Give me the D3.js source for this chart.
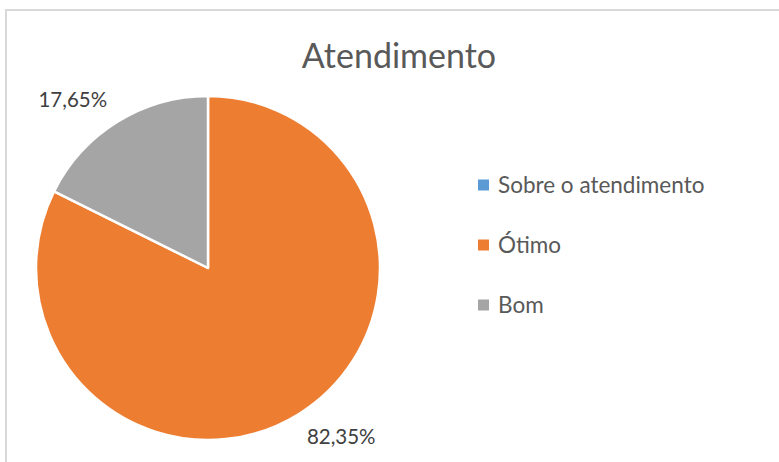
<!DOCTYPE html>
<html><head><meta charset="utf-8">
<script src="https://cdn.jsdelivr.net/npm/d3@7"></script>
<style>html,body{margin:0;padding:0;background:#fff;}svg{display:block;}</style>
</head><body>
<svg id="chart" width="779" height="462"></svg>
<script>
const title = "Atendimento";
const categories = ["Sobre o atendimento", "Ótimo", "Bom"];
const values = [0, 82.35, 17.65];
const labels = ["", "82,35%", "17,65%"];
const colors = ["#5B9BD5", "#ED7D31", "#A5A5A5"];

const svg = d3.select("#chart");
const font = "Lato, 'Open Sans', sans-serif";

svg.append("rect").attr("x", 6).attr("y", 10).attr("width", 820).attr("height", 500)
  .attr("fill", "#fff").attr("stroke", "#d9d9d9").attr("stroke-width", 2);

svg.append("text").attr("x", 399).attr("y", 68).attr("text-anchor", "middle")
  .attr("font-family", font).attr("font-size", 34).attr("fill", "#595959").text(title);

const cx = 208, cy = 268, r = 172;
const data = categories.map((c, i) => ({cat: c, value: values[i], label: labels[i], color: colors[i]}));
const pie = d3.pie().value(d => d.value).sort(null);
const arc = d3.arc().innerRadius(0).outerRadius(r);
const arcs = pie(data).filter(a => a.data.value > 0);

const g = svg.append("g").attr("transform", `translate(${cx},${cy})`);
g.selectAll("path.slice").data(arcs).join("path")
  .attr("class", "slice")
  .attr("d", arc).attr("fill", d => d.data.color)
  .attr("stroke", "#fff").attr("stroke-width", 2.5).attr("stroke-linejoin", "round");

// outside-end labels, placed like Excel's best fit
const lblG = svg.append("g").attr("transform", `translate(${cx},${cy})`);
arcs.forEach(d => {
  const big = d.endAngle - d.startAngle > Math.PI;
  const ang = d.startAngle + (d.endAngle - d.startAngle) * (big ? 0.478 : 0.39);
  const rr = r + (big ? 43 : 44);
  lblG.append("text")
    .attr("x", Math.sin(ang) * rr).attr("y", -Math.cos(ang) * rr)
    .attr("text-anchor", "middle").attr("dy", "0.35em")
    .attr("font-family", font).attr("font-size", 20.5).attr("fill", "#404040")
    .text(d.data.label);
});

const leg = svg.append("g");
const ly = d3.scalePoint().domain(categories).range([185, 305]);
const items = leg.selectAll("g.item").data(data).join("g")
  .attr("class", "item")
  .attr("transform", d => `translate(478,${ly(d.cat)})`);
items.append("rect").attr("x", 0).attr("y", -5.5).attr("width", 11).attr("height", 11)
  .attr("fill", d => d.color);
items.append("text").attr("x", 20).attr("y", 0).attr("dy", "0.36em")
  .attr("font-family", font).attr("font-size", 22.5).attr("fill", "#595959")
  .text(d => d.cat);
</script>
</body></html>
